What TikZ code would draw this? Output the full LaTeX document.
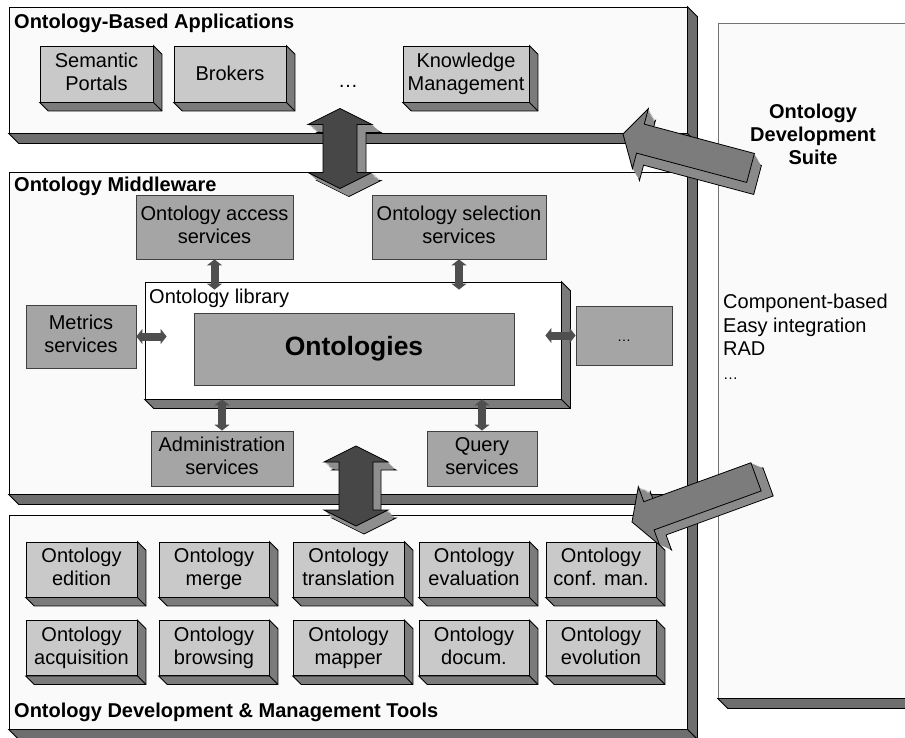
\documentclass[tikz,border=0pt]{standalone}
\usepackage{fontspec}
\setmainfont{Liberation Sans}
\usetikzlibrary{arrows.meta,calc,positioning}

\definecolor{panelface}{HTML}{FAFAFA}
\definecolor{panelside}{HTML}{6E6E6E}
\definecolor{blockface}{HTML}{C9C9C9}
\definecolor{blockside}{HTML}{7B7B7B}
\definecolor{serviceface}{HTML}{A5A5A5}
\definecolor{linkgray}{HTML}{4F4F4F}
\definecolor{bigfront}{HTML}{474747}
\definecolor{bigside}{HTML}{8E8E8E}
\definecolor{slantfront}{HTML}{7C7C7C}
\definecolor{slantside}{HTML}{8A8A8A}

% right and bottom faces of a raised node: #1 node, #2 depth, #3 colour
\newcommand{\raisedsides}[3]{%
  \filldraw[fill=#3,line width=0.8pt] (#1.north east) -- ++(#2,#2) -- ($(#1.south east)+(#2,#2)$)
    -- ($(#1.south west)+(#2,#2)$) -- (#1.south west) -- (#1.south east) -- cycle;
  \draw[line width=0.8pt] (#1.south east) -- ++(#2,#2);}
\newcommand{\bottomside}[3]{%
  \filldraw[fill=#3,line width=0.8pt] (#1.south west) -- ++(#2,#2) -- ($(#1.south east)+(#2,#2)$) -- (#1.south east) -- cycle;}
% even text lines in the boxes
\newcommand{\linetop}{\rule{0pt}{17pt}}
\newcommand{\linebottom}{\rule[-4.6pt]{0pt}{4.6pt}}

% outlines of the big arrows
\newcommand{\dblarrowshape}{(0,-40) -- (32,-24) -- (17,-24) -- (17,24) -- (32,24) -- (0,40)
  -- (-32,24) -- (-17,24) -- (-17,-24) -- (-32,-24) -- cycle}
\newcommand{\sglarrowshape}{(0,0) -- (18,-31) -- (18,-15) -- (132,-15) -- (132,15) -- (18,15) -- (18,31) -- cycle}
% #1 shape, #2 place, #3 rotation, #4 depth vector, #5 front, #6 side
\newcommand{\solidarrow}[6]{%
  \filldraw[fill=#6,line width=0.8pt] [shift={($#2+#4$)},rotate=#3] #1;
  \foreach \ext in {0.9,0.8,...,0.05}
    \fill[#6] [shift={($#2+\ext*#4$)},rotate=#3] #1;
  \filldraw[fill=#5,line width=0.8pt] [shift={#2},rotate=#3] #1;}

\begin{document}
\begin{tikzpicture}[x=1pt,y=-1pt,>={Triangle[length=6pt,width=15pt]},
    font=\fontsize{20}{23}\selectfont,node distance=78.5pt]
    \tikzstyle{layer-panel}=[rectangle,draw=black,line width=0.8pt,fill=panelface,
    minimum width=678pt,inner sep=0pt]
    \tikzstyle{layer-title}=[anchor=west,inner sep=0pt,font=\fontsize{20}{23}\selectfont\bfseries]
    \tikzstyle{raised-block}=[rectangle,draw=black,line width=0.8pt,fill=blockface,
    minimum height=55pt,inner sep=0pt,align=center,
    execute at begin node=\linetop,execute at end node=\linebottom]
    \tikzstyle{service}=[rectangle,draw=black!75,line width=0.8pt,fill=serviceface,
    inner sep=0pt,align=center,execute at begin node=\linetop,execute at end node=\linebottom]
    \tikzstyle{link}=[<->,draw=linkgray,fill=linkgray,line width=8pt]

    \useasboundingbox (0,0) rectangle (905,737);
    \clip (0,0) rectangle (905,737);
    \fill[white] (0,0) rectangle (905,737);

    % layers
    \node[layer-panel,minimum height=126pt] (apps) at (348,70) {};
    \node[layer-panel,minimum height=322pt] (middleware) at (348,333) {};
    \node[layer-panel,minimum height=214pt] (tools) at (348,622) {};
    \filldraw[fill=panelside,line width=0.8pt] (apps.north east) -- ++(10,10)
      -- ($(tools.south east)+(10,10)$) -- (tools.south east) -- cycle;
    \bottomside{apps}{10}{panelside}
    \bottomside{middleware}{10}{panelside}
    \bottomside{tools}{10}{panelside}
    \node[rectangle,draw=black!55,line width=0.8pt,fill=panelface,minimum width=232pt,
      minimum height=675pt] (suite) at (834,360.5) {};
    \bottomside{suite}{10}{panelside}

    \node[layer-title] (apps-title) at (14,23) {Ontology-Based Applications};
    \node[layer-title] (middleware-title) at (14,186) {Ontology Middleware};
    \node[layer-title] (tools-title) at (14,712) {Ontology Development \& Management Tools};
    \node[inner sep=0pt,align=center,font=\fontsize{20}{23}\selectfont\bfseries] (suite-title)
      at (813,134) {Ontology\\Development\\Suite};
    \node[inner sep=0pt,align=left,anchor=north west,font=\fontsize{20}{23.5}\selectfont]
      (suite-list) at (723,294) {Component-based\\Easy integration\\RAD\\{\fontsize{15}{23.5}\selectfont …}};

    % applications
    \node[raised-block,minimum width=113pt,minimum height=56pt] (portals) at (96.5,74) {Semantic\\Portals};
    \node[raised-block,minimum width=112pt,minimum height=56pt] (brokers) at (230,74) {Brokers};
    \node[inner sep=0pt,anchor=base] (apps-more) at (348,87) {…};
    \node[raised-block,minimum width=126pt,minimum height=56pt] (knowledge) at (466,74) {Knowledge\\Management};
    \raisedsides{portals}{8.5}{blockside}
    \raisedsides{brokers}{8.5}{blockside}
    \raisedsides{knowledge}{8.5}{blockside}

    % middleware
    \node[rectangle,draw=black,line width=0.8pt,fill=white,minimum width=416pt,minimum height=117pt]
      (library) at (353,340.5) {};
    \raisedsides{library}{9}{blockside}
    \node[inner sep=0pt,anchor=west] (library-title) at (149,298) {Ontology library};
    \node[service,minimum width=320pt,minimum height=72pt,font=\fontsize{26.5}{30}\selectfont\bfseries]
      (ontologies) at (354,349) {Ontologies};
    \node[service,minimum width=157pt,minimum height=64pt] (access) at (214.5,227) {Ontology access\\services};
    \node[service,minimum width=174pt,minimum height=64pt] (selection) at (459,227) {Ontology selection\\services};
    \node[service,minimum width=110pt,minimum height=63pt] (metrics) at (81,336.5) {Metrics\\services};
    \node[service,minimum width=96pt,minimum height=59pt,font=\fontsize{14}{16}\selectfont] (more) at (624,335.5) {…};
    \node[service,minimum width=142pt,minimum height=55pt] (admin) at (222,458.5) {Administration\\services};
    \node[service,minimum width=110pt,minimum height=55pt] (query) at (482,458.5) {Query\\services};

    \draw[link] (access.south) -- ([yshift=-8pt]access.south |- library.north);
    \draw[link] (selection.south) -- ([yshift=-8pt]selection.south |- library.north);
    \draw[link] (metrics.east) -- ([xshift=22pt]metrics.east -| library.west);
    \draw[link] (more.west) -- ([xshift=-16pt]more.west -| library.east);
    \draw[link] (admin.north) -- (admin.north |- library.south);
    \draw[link] (query.north) -- (query.north |- library.south);

    % development and management tools
    \node[raised-block,minimum width=111pt] (edition) at (81.5,569.5) {Ontology\\edition};
    \node[raised-block,minimum width=110pt] (merge) at (214,569.5) {Ontology\\merge};
    \node[raised-block,minimum width=111pt] (translation) at (348.5,569.5) {Ontology\\translation};
    \node[raised-block,minimum width=110pt] (evaluation) at (474,569.5) {Ontology\\evaluation};
    \node[raised-block,minimum width=110pt] (confman) at (601,569.5) {Ontology\\conf. man.};
    \node[raised-block,minimum width=111pt] (acquisition) [below of=edition] {Ontology\\acquisition};
    \node[raised-block,minimum width=110pt] (browsing) [below of=merge] {Ontology\\browsing};
    \node[raised-block,minimum width=111pt] (mapper) [below of=translation] {Ontology\\mapper};
    \node[raised-block,minimum width=110pt] (documentation) [below of=evaluation] {Ontology\\docum.};
    \node[raised-block,minimum width=110pt] (evolution) [below of=confman] {Ontology\\evolution};
    \raisedsides{edition}{8.5}{blockside}
    \raisedsides{merge}{8.5}{blockside}
    \raisedsides{translation}{8.5}{blockside}
    \raisedsides{evaluation}{8.5}{blockside}
    \raisedsides{confman}{8.5}{blockside}
    \raisedsides{acquisition}{8.5}{blockside}
    \raisedsides{browsing}{8.5}{blockside}
    \raisedsides{mapper}{8.5}{blockside}
    \raisedsides{documentation}{8.5}{blockside}
    \raisedsides{evolution}{8.5}{blockside}

    % arrows between the layers and from the suite
    \solidarrow{\dblarrowshape}{(340,148.5)}{0}{(9,8)}{bigfront}{bigside}
    \solidarrow{\dblarrowshape}{(356,486)}{0}{(8,8)}{bigfront}{bigside}
    \solidarrow{\sglarrowshape}{(623,134)}{-14.9}{(7,12)}{slantfront}{slantside}
    \solidarrow{\sglarrowshape}{(632,522)}{20}{(12,5)}{slantfront}{slantside}
\end{tikzpicture}
\end{document}
